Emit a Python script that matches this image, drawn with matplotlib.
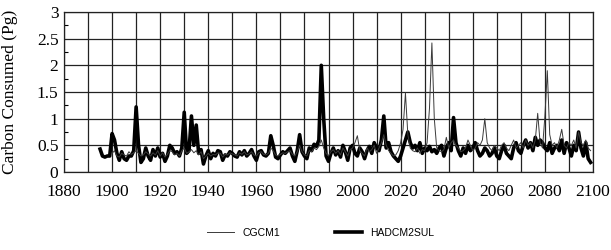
import matplotlib
matplotlib.use("Agg")
import matplotlib.pyplot as plt
import numpy as np
from matplotlib.ticker import MultipleLocator, FuncFormatter

had_years = list(range(1895, 2100))
hadcm2sul = [
    0.43, 0.30, 0.28, 0.30, 0.30,
    0.72, 0.60, 0.35, 0.22, 0.38, 0.25, 0.22, 0.30, 0.30, 0.40,
    1.22, 0.50, 0.18, 0.25, 0.45, 0.30, 0.22, 0.42, 0.30, 0.45,
    0.28, 0.35, 0.20, 0.30, 0.50, 0.45, 0.35, 0.38, 0.30, 0.45,
    1.12, 0.35, 0.40, 1.05, 0.50, 0.88, 0.35, 0.42, 0.15, 0.30,
    0.40, 0.25, 0.35, 0.30, 0.40, 0.38, 0.22, 0.32, 0.30, 0.38,
    0.35, 0.30, 0.28, 0.38, 0.32, 0.40, 0.30, 0.35, 0.42, 0.30,
    0.22, 0.38, 0.40, 0.32, 0.30, 0.35, 0.68, 0.50, 0.28, 0.25,
    0.32, 0.38, 0.35, 0.40, 0.45, 0.30, 0.20, 0.40, 0.70, 0.38,
    0.30, 0.25, 0.45, 0.40, 0.52, 0.48, 0.60, 2.00, 1.00, 0.30,
    0.20, 0.35, 0.45, 0.32, 0.40, 0.28, 0.50, 0.38, 0.22, 0.45,
    0.50, 0.35, 0.30, 0.45, 0.38, 0.25, 0.40, 0.48, 0.35, 0.55,
    0.45, 0.40, 0.60, 1.05, 0.45, 0.55, 0.38, 0.30, 0.25, 0.20,
    0.30, 0.45, 0.60, 0.75, 0.55, 0.45, 0.50, 0.40, 0.55, 0.35,
    0.45, 0.40, 0.48, 0.38, 0.42, 0.35, 0.45, 0.50, 0.30, 0.45,
    0.55, 0.40, 1.02, 0.55, 0.40, 0.30, 0.45, 0.35, 0.50, 0.40,
    0.45, 0.55, 0.40, 0.30, 0.35, 0.45, 0.40, 0.30, 0.35, 0.45,
    0.30, 0.25, 0.40, 0.50, 0.35, 0.30, 0.25, 0.45, 0.55, 0.40,
    0.35, 0.50, 0.60, 0.45, 0.55, 0.40, 0.65, 0.50, 0.60, 0.55,
    0.45, 0.40, 0.55, 0.35, 0.45, 0.50, 0.40, 0.60, 0.35, 0.55,
    0.45, 0.30, 0.50, 0.40, 0.75, 0.45, 0.30, 0.55, 0.25, 0.18,
]

cg_years = list(range(1900, 2100))
cgcm1 = [
    0.35, 0.40, 0.30, 0.28, 0.35, 0.32, 0.30, 0.38, 0.33, 0.36,
    0.40, 0.35, 0.30, 0.32, 0.38, 0.34, 0.30, 0.36, 0.32, 0.40,
    0.30, 0.36, 0.28, 0.33, 0.40, 0.38, 0.32, 0.35, 0.30, 0.40,
    0.45, 0.35, 0.38, 0.42, 0.36, 0.40, 0.32, 0.38, 0.25, 0.30,
    0.35, 0.30, 0.33, 0.32, 0.36, 0.35, 0.28, 0.33, 0.32, 0.36,
    0.34, 0.32, 0.30, 0.36, 0.33, 0.38, 0.32, 0.34, 0.38, 0.32,
    0.30, 0.36, 0.38, 0.33, 0.32, 0.35, 0.45, 0.40, 0.32, 0.30,
    0.33, 0.36, 0.35, 0.38, 0.40, 0.33, 0.30, 0.38, 0.50, 0.38,
    0.32, 0.30, 0.40, 0.38, 0.45, 0.42, 0.48, 0.60, 0.45, 0.35,
    0.30, 0.38, 0.42, 0.35, 0.40, 0.32, 0.45, 0.38, 0.30, 0.42,
    0.45, 0.55, 0.68, 0.40, 0.35, 0.30, 0.45, 0.38, 0.42, 0.50,
    0.35, 0.45, 0.55, 0.70, 0.50, 0.40, 0.35, 0.30, 0.32, 0.40,
    0.55, 0.80, 1.48, 0.70, 0.45, 0.40, 0.38, 0.45, 0.35, 0.42,
    0.40, 0.55, 1.20, 2.42, 1.00, 0.45, 0.40, 0.38, 0.42, 0.65,
    0.45, 0.55, 0.60, 0.50, 0.45, 0.38, 0.40, 0.45, 0.60, 0.50,
    0.40, 0.45, 0.55, 0.50, 0.60, 1.00, 0.55, 0.45, 0.40, 0.50,
    0.45, 0.40, 0.50, 0.55, 0.45, 0.40, 0.50, 0.60, 0.45, 0.50,
    0.55, 0.45, 0.60, 0.50, 0.55, 0.45, 0.60, 1.10, 0.55, 0.45,
    1.05, 1.90, 0.70, 0.50, 0.55, 0.45, 0.60, 0.80, 0.50, 0.45,
    0.55, 0.50, 0.60, 0.45, 0.75, 0.55, 0.50, 0.60, 0.45, 0.40,
]

x_ticks = list(range(1880, 2101, 20))
y_ticks = [0, 0.5, 1, 1.5, 2, 2.5, 3]

fig = plt.figure(figsize=(6.11, 2.5), dpi=100)
ax = fig.add_axes([64/611, 1 - 172/250, (593 - 64)/611, (172 - 12)/250])

serif = "Liberation Serif"

ax.plot(cg_years, cgcm1, color="#3a3a3a", lw=0.7, label="CGCM1", zorder=3)
ax.plot(had_years, hadcm2sul, color="black", lw=2.6, label="HADCM2SUL", zorder=2,
        solid_joinstyle="round")

ax.set_xlim(1880, 2100)
ax.set_ylim(0, 3)
ax.set_xticks(x_ticks)
ax.xaxis.set_minor_locator(MultipleLocator(10))
ax.set_yticks(y_ticks)
ax.yaxis.set_minor_locator(MultipleLocator(0.25))
ax.yaxis.set_major_formatter(FuncFormatter(lambda v, p: f"{v:g}"))

ax.grid(True, which="both", axis="x", color="#222222", lw=0.9)
ax.grid(True, which="major", axis="y", color="#222222", lw=0.9)
ax.set_axisbelow(True)

ax.tick_params(axis="x", which="both", length=0, pad=9, labelsize=12.5)
ax.tick_params(axis="y", which="major", length=0, pad=4, labelsize=12.5)
ax.tick_params(axis="y", which="minor", direction="in", length=3, width=0.8)
for lab in ax.get_xticklabels() + ax.get_yticklabels():
    lab.set_fontfamily(serif)

for s in ax.spines.values():
    s.set_color("#222222")
    s.set_linewidth(0.9)

ax.set_ylabel("Carbon Consumed (Pg)", fontfamily=serif, fontsize=12.5)
ax.yaxis.set_label_coords(-0.087, 0.5)

fig.legend(loc="center", bbox_to_anchor=(0.525, 0.068), ncol=2, frameon=False,
           prop={"family": "Liberation Sans", "size": 7.5},
           handlelength=2.6, handletextpad=0.8, columnspacing=5.2)

fig.savefig("out.png", dpi=100)
